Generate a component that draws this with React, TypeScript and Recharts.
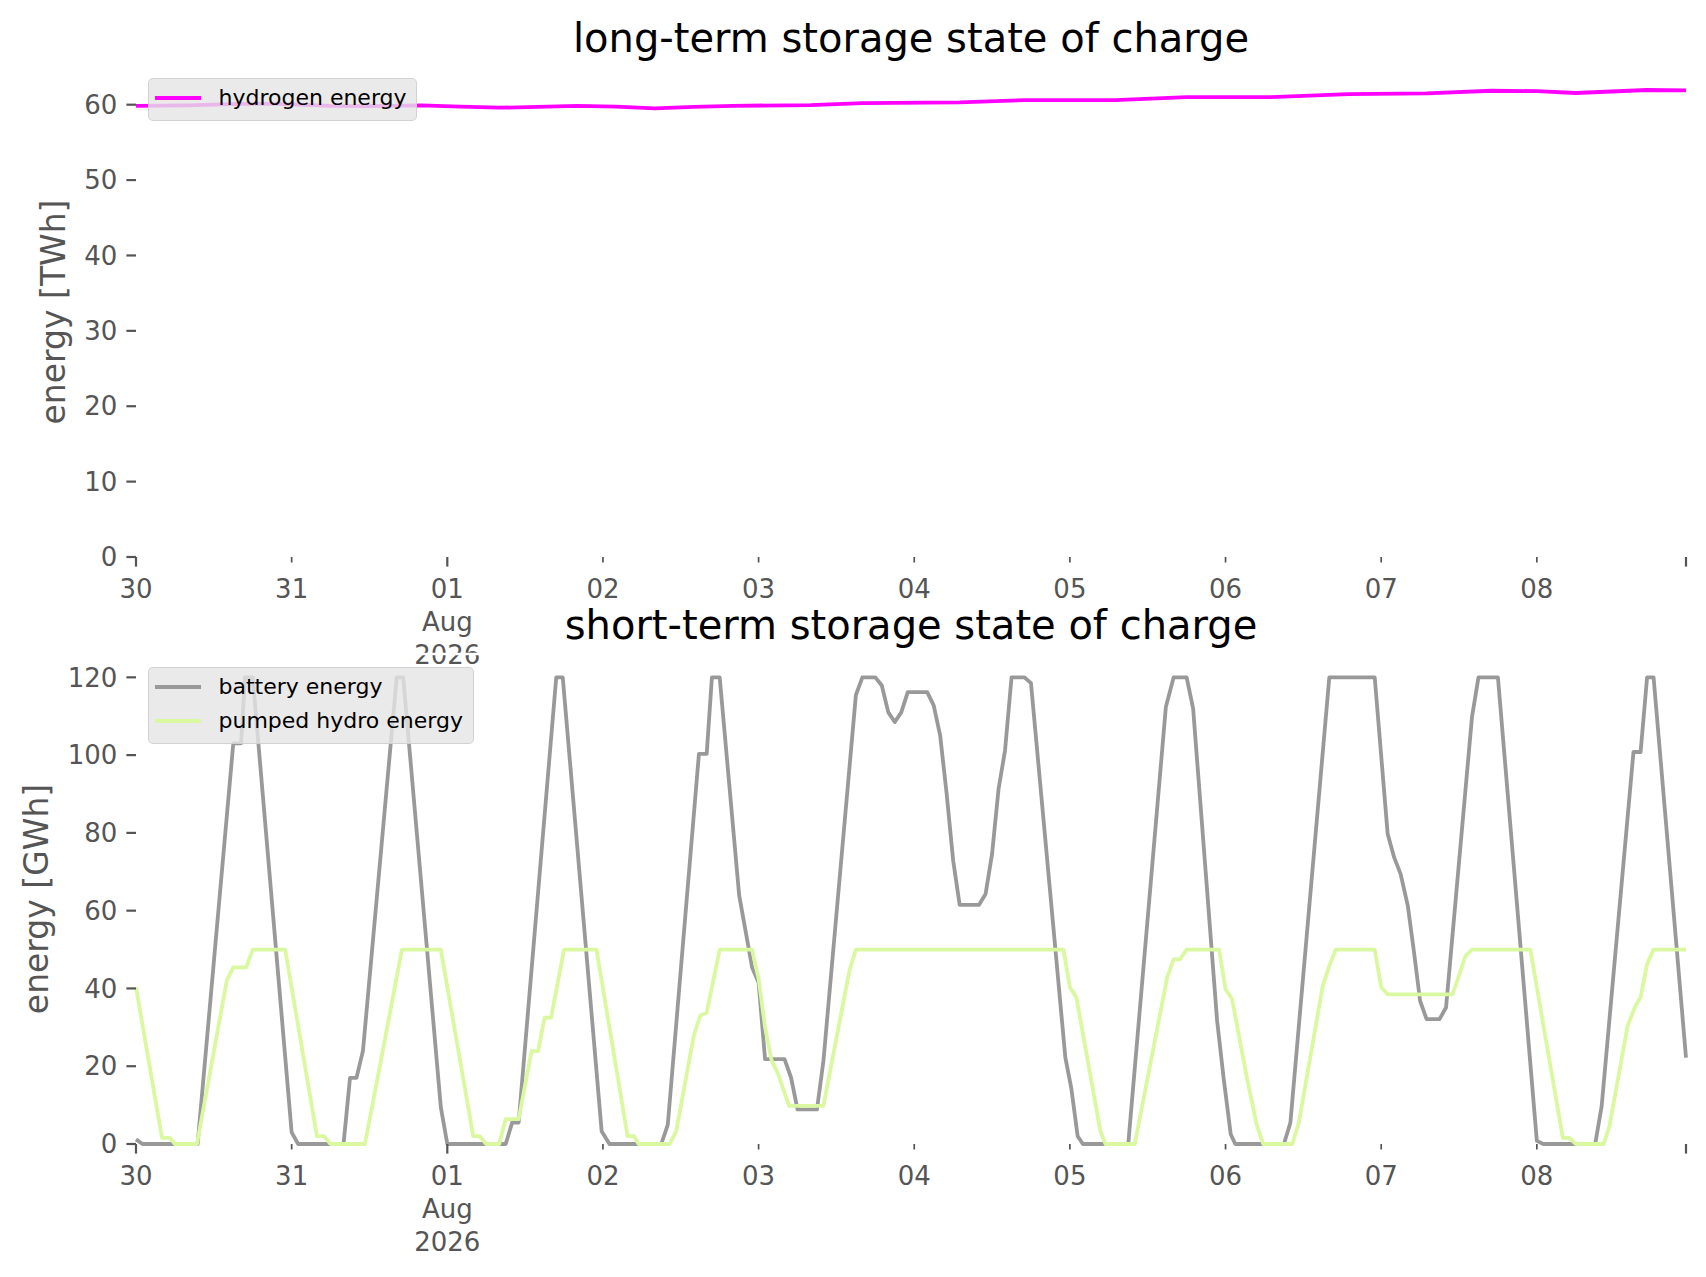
import { LineChart, Line, XAxis, YAxis, Legend, ReferenceLine } from 'recharts'

// hours since 30 Jul 00:00, one tick per day, the last one at the end of the data
const hourTicks = [0, 24, 48, 72, 96, 120, 144, 168, 192, 216, 239]
const dayLabels = ['30', '31', '01', '02', '03', '04', '05', '06', '07', '08', '']
const monthLines: Record<number, string[]> = { 48: ['Aug', '2026'] }
const majorTicks = [0, 48, 239]

const twhTicks = [0, 10, 20, 30, 40, 50, 60]
const gwhTicks = [0, 20, 40, 60, 80, 100, 120]

// [hour, TWh]
const hydrogenEnergy: [number, number][] = [
  [0, 59.85], [8, 59.9], [16, 60.1], [22, 60.1], [30, 59.85], [36, 59.8], [44, 59.9],
  [50, 59.75], [56, 59.6], [62, 59.7], [68, 59.85], [74, 59.75], [80, 59.5], [86, 59.7],
  [92, 59.85], [104, 59.95], [112, 60.2], [127, 60.3], [137, 60.6], [151, 60.6], [162, 61.0],
  [175, 61.0], [187, 61.4], [199, 61.5], [209, 61.85], [216, 61.8], [222, 61.55], [233, 61.95],
  [239, 61.9],
]

// [hour, GWh]
const batteryEnergy: [number, number][] = [
  [0, 1.2], [1, 0], [9.5, 0], [15, 103], [16.2, 103], [16.8, 120], [18, 120], [24, 3], [25, 0],
  [32, 0], [33, 17], [34, 17], [35, 24], [40.2, 120], [41.2, 120], [47, 9.5], [48, 0],
  [57, 0], [58, 5.5], [59, 5.5], [64.8, 120], [65.8, 120], [71.8, 3.3], [73, 0],
  [81, 0], [82, 5], [86.8, 100.3], [88, 100.3], [88.8, 120], [90, 120], [93, 64], [95, 45.4],
  [96, 41.5], [97, 21.8], [100, 21.8], [101, 17.1], [102, 8.9], [105, 8.9], [106, 21.4],
  [111, 115.4], [112, 120], [114, 120], [115, 117.9], [116, 111], [117, 108.5], [118, 111],
  [119, 116.2], [122, 116.2], [123, 112.8], [124, 105], [125, 90], [126, 72.9], [127, 61.5],
  [130, 61.5], [131, 64.3], [132, 74.6], [133, 91.3], [134, 101.2], [135, 120], [137, 120],
  [138, 118.5], [143.3, 22.2], [144.2, 14.5], [145.2, 2], [146, 0], [153, 0], [158.8, 112.4],
  [160, 120], [162, 120], [163, 112], [166.7, 31.7], [167.7, 17], [168.8, 2.5], [169.5, 0],
  [177, 0], [178, 5.5], [184, 120], [191, 120], [193, 79.7], [194, 73.7], [195, 69.4],
  [196.1, 61.3], [197.1, 48.8], [198, 36.8], [199, 32.1], [201, 32.1], [202, 35.1],
  [206, 109.8], [207, 120], [210, 120], [216, 0.8], [217, 0], [225, 0], [226, 9.8],
  [230.9, 100.8], [232, 100.8], [233, 120], [234, 120], [239, 22.2],
]

const pumpedHydroEnergy: [number, number][] = [
  [0, 40.3], [4, 1.6], [5.2, 1.6], [6, 0], [9.4, 0], [14, 42], [15, 45.4], [17, 45.4], [18, 50],
  [23, 50], [27.9, 2], [29, 2], [30, 0], [35.3, 0], [38, 23.5], [41, 50], [47, 50], [52, 2],
  [53, 2], [54, 0], [56, 0], [57, 6.4], [59, 6.4], [61, 23.9], [62, 23.9], [63, 32.5],
  [64, 32.5], [66, 50], [71, 50], [75.8, 2], [76.8, 2], [77.5, 0], [82.3, 0], [83.3, 3.3],
  [86, 27.8], [87, 33], [88, 33.8], [90, 50], [95, 50], [96, 42.5], [97, 30], [98, 21.5],
  [99, 18], [100.7, 9.8], [106, 9.8], [110, 44.5], [111, 50], [143, 50], [144, 40.3],
  [145, 37.7], [148.7, 3.3], [149.5, 0], [154, 0], [159, 42.8], [160, 47.5], [161, 47.5],
  [162, 50], [167, 50], [168, 39.8], [169, 37.3], [171.3, 17], [172.8, 5], [173.8, 0],
  [178.3, 0], [179.3, 5.5], [183, 40.7], [184, 45.8], [185, 50], [191, 50], [192, 40.3],
  [193, 38.5], [203, 38.5], [204, 43.3], [205, 48.4], [206, 50], [215, 50], [220, 1.6],
  [221, 1.6], [222, 0], [226.3, 0], [227.2, 4.6], [230, 30.4], [231.2, 35.5], [232, 37.7],
  [233, 46.3], [234, 50], [239, 50],
]

const rows = (pts: [number, number][]) => pts.map(([h, v]) => ({ h, v }))

const W = 1706
const H = 1277
const FONT = 'DejaVu Sans'
const TICK = '#555555'
const GWH_MAX = 126

const DateTick = ({ x, y, payload }: any) => {
  const i = hourTicks.indexOf(payload.value)
  const lines = [dayLabels[i], ...(monthLines[payload.value] || [])].filter(Boolean)
  const major = majorTicks.includes(payload.value)
  return (
    <g>
      <line x1={x} x2={x} y1={y} y2={y + (major ? 9.6 : 5.5)} stroke={TICK} strokeWidth={major ? 2.2 : 1.7} />
      {lines.map((t, k) => (
        <text key={k} x={x} y={y + 40.5 + k * 33} textAnchor="middle" fill={TICK} fontSize={26} fontFamily={FONT}>
          {t}
        </text>
      ))}
    </g>
  )
}

const LegendBox = ({ payload, width }: any) => (
  <div
    style={{
      width,
      boxSizing: 'border-box',
      padding: '2px 0 5px 0',
      background: 'rgba(229,229,229,0.8)',
      border: '1.5px solid rgba(204,204,204,0.8)',
      borderRadius: 5,
      fontFamily: FONT,
      fontSize: 22,
    }}
  >
    {(payload || []).map((entry: any) => (
      <div key={entry.value} style={{ display: 'flex', alignItems: 'center', height: 34 }}>
        <span style={{ marginLeft: 5.5, width: 46, height: 4, background: entry.color, display: 'inline-block' }} />
        <span style={{ marginLeft: 18, color: '#000', lineHeight: '34px', whiteSpace: 'nowrap' }}>{entry.value}</span>
      </div>
    ))}
  </div>
)

const yLabel = (text: string, x: number, cy: number) => () => (
  <text x={x} y={cy} transform={`rotate(-90 ${x} ${cy})`} textAnchor="middle" dominantBaseline="central" fill={TICK} fontSize={33} fontFamily={FONT}>
    {text}
  </text>
)

const layer = { position: 'absolute' as const, left: 0, top: 0 }

export default function App() {
  return (
    <div style={{ position: 'absolute', left: 0, top: 0, width: W, height: H, background: '#fff' }}>
      <svg width={W} height={H} style={layer}>
        <text x={911} y={52} textAnchor="middle" fontSize={40} fontFamily={FONT} fill="#000">
          long-term storage state of charge
        </text>
        <text x={911} y={638.5} textAnchor="middle" fontSize={40} fontFamily={FONT} fill="#000">
          short-term storage state of charge
        </text>
      </svg>

      <div style={layer}>
        <LineChart width={W} height={H} margin={{ top: 67, right: 20, bottom: 620, left: 36 }}>
          <XAxis
            dataKey="h"
            type="number"
            domain={[0, 239]}
            ticks={hourTicks}
            interval={0}
            height={100}
            axisLine={false}
            tickLine={false}
            tickSize={0}
            tickMargin={0}
            tick={<DateTick />}
          />
          <YAxis
            type="number"
            domain={[0, 65]}
            ticks={twhTicks}
            width={100}
            axisLine={false}
            tickLine={{ stroke: TICK, strokeWidth: 2.2 }}
            tickSize={9.6}
            tickMargin={9}
            tick={{ fill: TICK, fontSize: 26, fontFamily: FONT }}
            label={{ content: yLabel('energy [TWh]', 53, 312) }}
          />
          <Legend
            layout="vertical"
            align="center"
            verticalAlign="middle"
            wrapperStyle={{ left: 148, top: 78 }}
            content={(props: any) => <LegendBox payload={props.payload} width={269} />}
          />
          <Line
            data={rows(hydrogenEnergy)}
            dataKey="v"
            name="hydrogen energy"
            type="linear"
            stroke="#ff00ff"
            strokeWidth={3.8}
            strokeLinejoin="round"
            dot={false}
            activeDot={false}
            isAnimationActive={false}
          />
        </LineChart>
      </div>

      <div style={layer}>
        <LineChart width={W} height={H} margin={{ top: 654, right: 20, bottom: 33, left: 36 }}>
          <XAxis
            dataKey="h"
            type="number"
            domain={[0, 239]}
            ticks={hourTicks}
            interval={0}
            height={100}
            axisLine={false}
            tickLine={false}
            tickSize={0}
            tickMargin={0}
            tick={<DateTick />}
          />
          <YAxis
            type="number"
            domain={[0, GWH_MAX]}
            ticks={gwhTicks}
            width={100}
            axisLine={false}
            tickLine={{ stroke: TICK, strokeWidth: 2.2 }}
            tickSize={9.6}
            tickMargin={9}
            tick={{ fill: TICK, fontSize: 26, fontFamily: FONT }}
            label={{ content: yLabel('energy [GWh]', 36, 899) }}
          />
          {/* white top edge of the lower axes, it runs through the upper "2026" label */}
          <ReferenceLine y={GWH_MAX} stroke="#ffffff" strokeWidth={2.7} />
          <Legend
            layout="vertical"
            align="center"
            verticalAlign="middle"
            wrapperStyle={{ left: 148, top: 666.5 }}
            content={(props: any) => <LegendBox payload={props.payload} width={326} />}
          />
          <Line
            data={rows(batteryEnergy)}
            dataKey="v"
            name="battery energy"
            type="linear"
            stroke="#999999"
            strokeWidth={3.8}
            strokeLinejoin="round"
            dot={false}
            activeDot={false}
            isAnimationActive={false}
          />
          <Line
            data={rows(pumpedHydroEnergy)}
            dataKey="v"
            name="pumped hydro energy"
            type="linear"
            stroke="#daf8a0"
            strokeWidth={3.8}
            strokeLinejoin="round"
            dot={false}
            activeDot={false}
            isAnimationActive={false}
          />
        </LineChart>
      </div>
    </div>
  )
}
